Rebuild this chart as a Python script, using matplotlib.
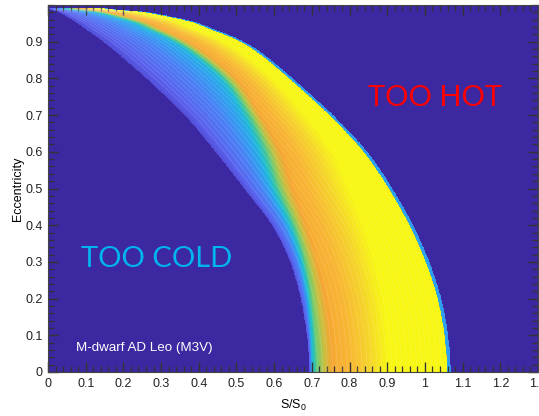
import numpy as np
import matplotlib
matplotlib.use("Agg")
import matplotlib.pyplot as plt
from matplotlib.colors import LinearSegmentedColormap
from matplotlib.ticker import MultipleLocator, FuncFormatter

# ---- data -------------------------------------------------------------
# eccentricity levels and the S/S0 positions of the colour transitions
ecc_levels = [0.0, 0.1, 0.2, 0.3, 0.4, 0.5, 0.6, 0.7, 0.8, 0.9, 0.95, 0.98, 0.99]
x_cold   = [0.695, 0.688, 0.672, 0.645, 0.598, 0.520, 0.445, 0.365, 0.262, 0.150, 0.080, 0.030, 0.000]
x_cyan   = [0.700, 0.698, 0.690, 0.672, 0.640, 0.592, 0.560, 0.518, 0.462, 0.340, 0.240, 0.120, 0.040]
x_green  = [0.715, 0.710, 0.700, 0.685, 0.656, 0.612, 0.585, 0.538, 0.480, 0.358, 0.258, 0.140, 0.060]
x_orange = [0.765, 0.760, 0.745, 0.722, 0.692, 0.655, 0.628, 0.570, 0.512, 0.388, 0.288, 0.170, 0.090]
x_yellow = [0.905, 0.900, 0.890, 0.870, 0.840, 0.800, 0.760, 0.685, 0.600, 0.480, 0.370, 0.230, 0.120]
x_hot    = [1.060, 1.053, 1.035, 1.003, 0.960, 0.905, 0.840, 0.748, 0.640, 0.525, 0.410, 0.260, 0.150]
knot_values = [0.03, 0.40, 0.55, 0.80, 1.00, 1.00]
hot_fringe_values = [0.38, 0.32]

x_ticks = [0, 0.1, 0.2, 0.3, 0.4, 0.5, 0.6, 0.7, 0.8, 0.9, 1.0, 1.1, 1.2, 1.3]
y_ticks = [0, 0.1, 0.2, 0.3, 0.4, 0.5, 0.6, 0.7, 0.8, 0.9]

# ---- build the field ----------------------------------------------------
xs = np.linspace(0, 1.3, 1301)
es = np.linspace(0, 1.0, 1001)
e_top = ecc_levels[-1]


def smooth_edge(arr, sigma=0.03):
    """Edge position along es, linearly interpolated then gently smoothed."""
    raw = np.interp(es, ecc_levels, arr)
    de = es[1] - es[0]
    n = int(4 * sigma / de)
    kern = np.exp(-0.5 * (np.arange(-n, n + 1) * de / sigma) ** 2)
    kern /= kern.sum()
    top_slope = (raw[-1] - raw[-2])
    lo = raw[1:n + 1][::-1]
    hi = raw[-1] + top_slope * np.arange(1, n + 1)
    padded = np.concatenate([lo, raw, hi])
    sm = np.convolve(padded, kern, mode="valid")
    w = np.clip((es - 0.93) / 0.04, 0, 1)
    return sm * (1 - w) + raw * w


edges = [smooth_edge(a) for a in (x_cold, x_cyan, x_green, x_orange, x_yellow, x_hot)]

V = np.full((es.size, xs.size), np.nan)
T = np.full((es.size, xs.size), np.nan)
for i, e in enumerate(es):
    if e > e_top:
        continue
    k = [ed[i] for ed in edges]
    for j in range(1, len(k)):
        k[j] = max(k[j], k[j - 1] + 1e-4)
    hot = k[-1]
    xp = k + [hot + 0.0008, hot + 0.010]
    fp = knot_values + hot_fringe_values
    V[i] = np.interp(xs, xp, fp, left=np.nan, right=np.nan)
    inside = (xs >= k[0]) & (xs <= hot)
    T[i, inside] = (xs[inside] - k[0]) / (hot - k[0])

cmap = LinearSegmentedColormap.from_list("hz", [
    (0.00, "#5048d0"),
    (0.10, "#5a62ee"),
    (0.25, "#4a7ff5"),
    (0.35, "#2fa0f0"),
    (0.42, "#1dbcd6"),
    (0.50, "#3cc4a0"),
    (0.57, "#7ccb6a"),
    (0.65, "#c8c040"),
    (0.75, "#f5a532"),
    (0.85, "#f8b534"),
    (0.93, "#f5d52a"),
    (1.00, "#f7f614"),
])

# ---- plot ----------------------------------------------------------------
plt.rcParams["mathtext.default"] = "regular"
fig = plt.figure(figsize=(5.39, 4.16), dpi=100)
ax = fig.add_axes([48 / 539, 44 / 416, 490 / 539, 367 / 416])
ax.set_facecolor("#3c28a0")
ax.pcolormesh(xs, es, np.ma.masked_invalid(V), cmap=cmap, vmin=0, vmax=1,
              shading="auto", rasterized=True)
ax.contour(xs, es, np.ma.masked_invalid(T), levels=np.linspace(0.06, 0.96, 26),
           colors="white", alpha=0.2, linewidths=0.4)

ax.set_xlim(0, 1.3)
ax.set_ylim(0, 1.0)
ax.set_xticks(x_ticks)
ax.set_yticks(y_ticks)
fmt = FuncFormatter(lambda v, p: f"{v:g}")
ax.xaxis.set_major_formatter(fmt)
ax.yaxis.set_major_formatter(fmt)
ax.xaxis.set_minor_locator(MultipleLocator(0.02))
ax.yaxis.set_minor_locator(MultipleLocator(0.02))
ax.tick_params(which="both", direction="in", top=True, right=True,
               color="#333333", labelsize=9, labelcolor="#222222")
ax.tick_params(which="major", length=7, width=1.0, pad=4)
ax.tick_params(which="minor", length=4, width=0.9)
for s in ax.spines.values():
    s.set_color("#444444")
    s.set_linewidth(0.8)

ax.set_xlabel("S/S$_0$", fontsize=9, family="Liberation Sans", labelpad=6)
ax.set_ylabel("Eccentricity", fontsize=9, family="Liberation Sans", labelpad=1)
for lab in ax.get_xticklabels() + ax.get_yticklabels():
    lab.set_family("Liberation Sans")

ax.text(1.027, 0.747, "TOO HOT", color="#ff0000", fontsize=21, family="Lato",
        ha="center", va="center")
ax.text(0.288, 0.308, "TOO COLD", color="#00b4f0", fontsize=21, family="Lato",
        ha="center", va="center")
ax.text(0.075, 0.065, "M-dwarf AD Leo (M3V)", color="white", fontsize=9.6,
        family="Liberation Sans", ha="left", va="center")

fig.savefig("out.png", dpi=100)
